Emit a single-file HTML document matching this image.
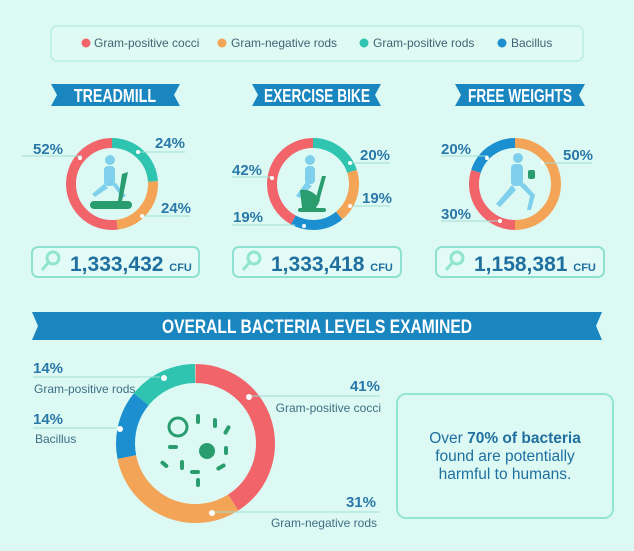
<!DOCTYPE html>
<html><head><meta charset="utf-8"><style>
html,body{margin:0;padding:0;background:#dcfaf3;}
svg{display:block}
text{font-family:"Liberation Sans",sans-serif;}
.pct{font-size:15px;font-weight:bold;fill:#2a78a8;}
.lbl{font-size:12px;fill:#3d6e85;}
.ban{font-family:"Liberation Sans",sans-serif;font-weight:bold;fill:#fff;}
.leg{font-size:12px;fill:#3f6475;}
</style></head><body>
<svg width="634" height="551" viewBox="0 0 634 551" xmlns="http://www.w3.org/2000/svg">
<rect width="634" height="551" fill="#dcfaf3"/>
<!-- legend -->
<rect x="51" y="26" width="532" height="35" rx="6" fill="#dff9f3" stroke="#b9eee2" stroke-width="1.5"/>
<circle cx="86" cy="43" r="4.5" fill="#f0646a"/><text class="leg" x="94" y="47">Gram-positive cocci</text>
<circle cx="222" cy="43" r="4.5" fill="#f4a456"/><text class="leg" x="231" y="47">Gram-negative rods</text>
<circle cx="364" cy="43" r="4.5" fill="#2ec4b0"/><text class="leg" x="373" y="47">Gram-positive rods</text>
<circle cx="502" cy="43" r="4.5" fill="#1b8fd0"/><text class="leg" x="511" y="47">Bacillus</text>

<!-- banners -->
<g fill="#1a86bf">
<polygon points="51,84 180,84 174,95 180,106 51,106 57,95"/>
<polygon points="252,84 381,84 375,95 381,106 252,106 258,95"/>
<polygon points="455,84 585,84 579,95 585,106 455,106 461,95"/>
<polygon points="32,312 602,312 596,326 602,340 32,340 38,326"/>
</g>
<text class="ban" x="74" y="102" font-size="18" textLength="82" lengthAdjust="spacingAndGlyphs">TREADMILL</text>
<text class="ban" x="264" y="102" font-size="18" textLength="106" lengthAdjust="spacingAndGlyphs">EXERCISE BIKE</text>
<text class="ban" x="468" y="102" font-size="18" textLength="104" lengthAdjust="spacingAndGlyphs">FREE WEIGHTS</text>
<text class="ban" x="162" y="333" font-size="19" textLength="310" lengthAdjust="spacingAndGlyphs">OVERALL BACTERIA LEVELS EXAMINED</text>

<!-- small donuts -->
<g fill="none" stroke-width="10">
<g transform="rotate(-90 112 184)">
<circle cx="112" cy="184" r="41" pathLength="100" stroke="#2ec4b0" stroke-dasharray="24 100"/>
<circle cx="112" cy="184" r="41" pathLength="100" stroke="#f4a456" stroke-dasharray="24 100" stroke-dashoffset="-24"/>
<circle cx="112" cy="184" r="41" pathLength="100" stroke="#f0646a" stroke-dasharray="52 100" stroke-dashoffset="-48"/>
</g>
<g transform="rotate(-90 313 184)">
<circle cx="313" cy="184" r="41" pathLength="100" stroke="#2ec4b0" stroke-dasharray="20 100"/>
<circle cx="313" cy="184" r="41" pathLength="100" stroke="#f4a456" stroke-dasharray="19 100" stroke-dashoffset="-20"/>
<circle cx="313" cy="184" r="41" pathLength="100" stroke="#1b8fd0" stroke-dasharray="19 100" stroke-dashoffset="-39"/>
<circle cx="313" cy="184" r="41" pathLength="100" stroke="#f0646a" stroke-dasharray="42 100" stroke-dashoffset="-58"/>
</g>
<g transform="rotate(-90 515 184)">
<circle cx="515" cy="184" r="41" pathLength="100" stroke="#f4a456" stroke-dasharray="50 100"/>
<circle cx="515" cy="184" r="41" pathLength="100" stroke="#f0646a" stroke-dasharray="30 100" stroke-dashoffset="-50"/>
<circle cx="515" cy="184" r="41" pathLength="100" stroke="#1b8fd0" stroke-dasharray="20 100" stroke-dashoffset="-80"/>
</g>
<!-- big donut -->
<g transform="rotate(-90 195.5 443.5)" stroke-width="19">
<circle cx="195.5" cy="443.5" r="70" pathLength="100" stroke="#f0646a" stroke-dasharray="41 100"/>
<circle cx="195.5" cy="443.5" r="70" pathLength="100" stroke="#f4a456" stroke-dasharray="31 100" stroke-dashoffset="-41"/>
<circle cx="195.5" cy="443.5" r="70" pathLength="100" stroke="#1b8fd0" stroke-dasharray="14 100" stroke-dashoffset="-72"/>
<circle cx="195.5" cy="443.5" r="70" pathLength="100" stroke="#2ec4b0" stroke-dasharray="14 100" stroke-dashoffset="-86"/>
</g>
</g>

<!-- leader lines -->
<g stroke="#9fdcd0" stroke-width="1">
<line x1="22" y1="156" x2="82" y2="156"/><line x1="138" y1="152" x2="185" y2="152"/><line x1="140" y1="216" x2="190" y2="216"/>
<line x1="232" y1="177" x2="272" y2="177"/><line x1="350" y1="163" x2="390" y2="163"/><line x1="352" y1="206" x2="390" y2="206"/><line x1="232" y1="225" x2="295" y2="225"/>
<line x1="441" y1="156" x2="488" y2="156"/><line x1="543" y1="163" x2="592" y2="163"/><line x1="441" y1="221" x2="500" y2="221"/>
<line x1="33" y1="377" x2="160" y2="377"/><line x1="33" y1="428" x2="121" y2="428"/>
<line x1="250" y1="396" x2="380" y2="396"/><line x1="212" y1="512" x2="380" y2="512"/>
</g>
<g fill="#fff">
<circle cx="80" cy="158" r="2"/><circle cx="138" cy="152" r="2"/><circle cx="142" cy="216" r="2"/>
<circle cx="272" cy="178" r="2"/><circle cx="350" cy="163" r="2"/><circle cx="350" cy="206" r="2"/><circle cx="304" cy="226" r="2"/>
<circle cx="487" cy="158" r="2"/><circle cx="542" cy="163" r="2"/><circle cx="500" cy="221" r="2"/>
<circle cx="164" cy="378" r="3"/><circle cx="120" cy="429" r="3"/><circle cx="249" cy="397" r="3"/><circle cx="212" cy="513" r="3"/>
</g>

<!-- small labels -->
<text class="pct" x="33" y="154">52%</text>
<text class="pct" x="155" y="148">24%</text>
<text class="pct" x="161" y="213">24%</text>
<text class="pct" x="232" y="175">42%</text>
<text class="pct" x="360" y="160">20%</text>
<text class="pct" x="362" y="203">19%</text>
<text class="pct" x="233" y="222">19%</text>
<text class="pct" x="441" y="154">20%</text>
<text class="pct" x="563" y="160">50%</text>
<text class="pct" x="441" y="219">30%</text>

<!-- big labels -->
<text class="pct" x="33" y="373">14%</text>
<text class="lbl" x="34" y="393">Gram-positive rods</text>
<text class="pct" x="33" y="424">14%</text>
<text class="lbl" x="35" y="443">Bacillus</text>
<text class="pct" x="380" y="391" text-anchor="end">41%</text>
<text class="lbl" x="381" y="412" text-anchor="end">Gram-positive cocci</text>
<text class="pct" x="376" y="507" text-anchor="end">31%</text>
<text class="lbl" x="377" y="527" text-anchor="end">Gram-negative rods</text>

<!-- icons (simplified) -->
<g fill="#7fd0ec">
<circle cx="110" cy="160" r="5"/><rect x="104" y="166" width="11" height="20" rx="4"/>
<path d="M104 184 L92 194 L95 197 L108 188 Z"/><path d="M112 184 L122 198 L126 196 L116 183 Z"/>
<circle cx="310" cy="160" r="5"/><rect x="305" y="166" width="10" height="18" rx="4"/>
<path d="M306 182 L296 196 L300 198 L312 186Z"/>
<circle cx="518" cy="158" r="5"/><rect x="511" y="164" width="12" height="22" rx="4"/>
<path d="M512 185 L496 204 L500 207 L516 190Z"/><path d="M520 186 L530 196 L527 210 L531 210 L535 195 L524 183Z"/>
</g>
<g fill="#2a9d6f">
<rect x="90" y="201" width="42" height="8" rx="4"/>
<path d="M122 174 L128 172 L122 201 L118 201Z"/>
<rect x="298" y="208" width="28" height="4" rx="2"/><path d="M300 190 Q312 188 320 200 L316 208 L302 208Z"/><path d="M322 176 L326 176 L318 205 L314 205Z"/>
<rect x="528" y="170" width="7" height="9" rx="2"/>
</g>
<g fill="#2a9d6f">
<circle cx="178" cy="427" r="9" fill="none" stroke="#2a9d6f" stroke-width="3"/>
<circle cx="207" cy="451" r="8"/>
<rect x="196" y="414" width="4" height="10" rx="2"/><rect x="213" y="418" width="4" height="10" rx="2"/>
<rect x="225" y="425" width="4" height="10" rx="2" transform="rotate(30 227 430)"/>
<rect x="168" y="445" width="10" height="4" rx="2"/><rect x="180" y="460" width="4" height="10" rx="2"/>
<rect x="160" y="462" width="9" height="4" rx="2" transform="rotate(40 164 464)"/>
<rect x="190" y="470" width="10" height="4" rx="2"/><rect x="216" y="465" width="10" height="4" rx="2" transform="rotate(-30 221 467)"/>
<rect x="196" y="478" width="4" height="9" rx="2"/><rect x="224" y="446" width="4" height="9" rx="2"/>
</g>

<!-- CFU boxes -->
<g fill="#e3fbf6" stroke="#8fe0cf" stroke-width="2">
<rect x="32" y="247" width="167" height="30" rx="6"/>
<rect x="233" y="247" width="168" height="30" rx="6"/>
<rect x="436" y="247" width="168" height="30" rx="6"/>
</g>
<g fill="none" stroke="#8fe6c9" stroke-width="3">
<circle cx="53" cy="258" r="6"/><line x1="48" y1="263" x2="42" y2="270"/>
<circle cx="254" cy="258" r="6"/><line x1="249" y1="263" x2="243" y2="270"/>
<circle cx="457" cy="258" r="6"/><line x1="452" y1="263" x2="446" y2="270"/>
</g>
<g font-family="Liberation Sans,sans-serif" font-weight="bold" fill="#1f6f9f">
<text x="70" y="271" font-size="21">1,333,432 <tspan font-size="11">CFU</tspan></text>
<text x="271" y="271" font-size="21">1,333,418 <tspan font-size="11">CFU</tspan></text>
<text x="474" y="271" font-size="21">1,158,381 <tspan font-size="11">CFU</tspan></text>
</g>

<!-- text box -->
<rect x="397" y="394" width="216" height="124" rx="9" fill="#dcfaf3" stroke="#93e6d3" stroke-width="2"/>
<g font-size="15.5" fill="#1f6f9f" text-anchor="middle">
<text x="505" y="443">Over <tspan font-weight="bold">70% of bacteria</tspan></text>
<text x="505" y="461">found are potentially</text>
<text x="505" y="479">harmful to humans.</text>
</g>
</svg>
</body></html>
